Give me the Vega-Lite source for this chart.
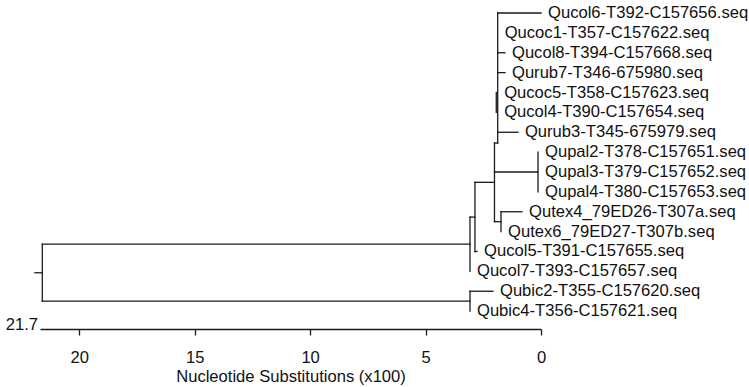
{
  "$schema": "https://vega.github.io/schema/vega-lite/v6.json",
  "width": 501,
  "height": 329,
  "autosize": {"type": "none"},
  "padding": {"left": 40, "top": 0, "right": 208, "bottom": 58},
  "background": "white",
  "config": {
    "view": {"stroke": null},
    "font": "Liberation Sans",
    "text": {"font": "Liberation Sans"}
  },
  "datasets": {
    "segments": [
      {"branch": "Qucol6", "x": 1.876, "x2": 0.0, "y": 1, "y2": 1},
      {"branch": "Qucol8", "x": 1.876, "x2": 1.56, "y": 3, "y2": 3},
      {"branch": "Qurub7", "x": 1.876, "x2": 1.56, "y": 4, "y2": 4},
      {"branch": "Qurub3", "x": 1.876, "x2": 1.0, "y": 7, "y2": 7},
      {"branch": "Qucoc5/Qucol4 node", "x": 1.937, "x2": 1.937, "y": 5, "y2": 6},
      {"branch": "D node", "x": 1.876, "x2": 1.876, "y": 1, "y2": 7.54},
      {"branch": "D stem", "x": 2.015, "x2": 1.876, "y": 7.54, "y2": 7.54},
      {"branch": "Qupal stem", "x": 2.015, "x2": 0.13, "y": 9, "y2": 9},
      {"branch": "Qupal node", "x": 0.13, "x2": 0.13, "y": 8, "y2": 10},
      {"branch": "C node", "x": 2.015, "x2": 2.015, "y": 7.54, "y2": 11.5},
      {"branch": "Qutex stem", "x": 2.015, "x2": 1.733, "y": 11.5, "y2": 11.5},
      {"branch": "Qutex node", "x": 1.733, "x2": 1.733, "y": 11, "y2": 12},
      {"branch": "Qutex4", "x": 1.733, "x2": 0.823, "y": 11, "y2": 11},
      {"branch": "C stem", "x": 2.86, "x2": 2.015, "y": 9.52, "y2": 9.52},
      {"branch": "B node", "x": 2.86, "x2": 2.86, "y": 9.52, "y2": 13},
      {"branch": "Qucol5", "x": 2.86, "x2": 2.77, "y": 13, "y2": 13},
      {"branch": "B stem", "x": 3.076, "x2": 2.86, "y": 11.27, "y2": 11.27},
      {"branch": "A node", "x": 3.076, "x2": 3.076, "y": 11.27, "y2": 14},
      {"branch": "A stem", "x": 21.6, "x2": 3.076, "y": 12.63, "y2": 12.63},
      {"branch": "Qubic stem", "x": 21.6, "x2": 3.076, "y": 15.5, "y2": 15.5},
      {"branch": "Qubic node", "x": 3.076, "x2": 3.076, "y": 15, "y2": 16},
      {"branch": "Qubic2", "x": 3.076, "x2": 2.08, "y": 15, "y2": 15},
      {"branch": "Root node", "x": 21.6, "x2": 21.6, "y": 12.63, "y2": 15.5},
      {"branch": "Root stub", "x": 21.92, "x2": 21.6, "y": 14.07, "y2": 14.07}
    ],
    "leaves": [
      {"name": "Qucol6-T392-C157656.seq", "tip": 0.0, "row": 1},
      {"name": "Qucoc1-T357-C157622.seq", "tip": 1.876, "row": 2},
      {"name": "Qucol8-T394-C157668.seq", "tip": 1.56, "row": 3},
      {"name": "Qurub7-T346-675980.seq", "tip": 1.56, "row": 4},
      {"name": "Qucoc5-T358-C157623.seq", "tip": 1.90, "row": 5},
      {"name": "Qucol4-T390-C157654.seq", "tip": 1.90, "row": 6},
      {"name": "Qurub3-T345-675979.seq", "tip": 1.0, "row": 7},
      {"name": "Qupal2-T378-C157651.seq", "tip": 0.13, "row": 8},
      {"name": "Qupal3-T379-C157652.seq", "tip": 0.13, "row": 9},
      {"name": "Qupal4-T380-C157653.seq", "tip": 0.13, "row": 10},
      {"name": "Qutex4_79ED26-T307a.seq", "tip": 0.823, "row": 11},
      {"name": "Qutex6_79ED27-T307b.seq", "tip": 1.733, "row": 12},
      {"name": "Qucol5-T391-C157655.seq", "tip": 2.77, "row": 13},
      {"name": "Qucol7-T393-C157657.seq", "tip": 3.076, "row": 14},
      {"name": "Qubic2-T355-C157620.seq", "tip": 2.08, "row": 15},
      {"name": "Qubic4-T356-C157621.seq", "tip": 3.076, "row": 16}
    ]
  },
  "layer": [
    {
      "data": {"name": "segments"},
      "mark": {"type": "rule", "color": "#1a1a1a", "strokeWidth": 1.3, "strokeCap": "square"},
      "encoding": {
        "x": {
          "field": "x",
          "type": "quantitative",
          "scale": {"domain": [0, 21.7], "reverse": true, "nice": false, "zero": false},
          "axis": {
            "values": [20, 15, 10, 5, 0],
            "title": "Nucleotide Substitutions (x100)",
            "titleFont": "Liberation Sans",
            "titleFontSize": 16.6,
            "titleFontWeight": "normal",
            "titleColor": "#111",
            "titlePadding": 3,
            "labelFont": "Liberation Sans",
            "labelFontSize": 16.6,
            "labelColor": "#111",
            "labelPadding": 14,
            "labelFlush": false,
            "labelOverlap": false,
            "tickSize": 6,
            "tickColor": "#1a1a1a",
            "tickWidth": 1.3,
            "domainColor": "#1a1a1a",
            "domainWidth": 1.3,
            "grid": false
          }
        },
        "x2": {"field": "x2"},
        "y": {
          "field": "y",
          "type": "quantitative",
          "scale": {"domain": [0.345, 16.9], "reverse": true, "nice": false, "zero": false},
          "axis": null
        },
        "y2": {"field": "y2"}
      }
    },
    {
      "data": {"name": "leaves"},
      "mark": {"type": "text", "align": "left", "baseline": "middle", "dx": 7, "fontSize": 16.6, "font": "Liberation Sans", "color": "#111"},
      "encoding": {
        "x": {"field": "tip", "type": "quantitative"},
        "y": {"field": "row", "type": "quantitative"},
        "text": {"field": "name"}
      }
    },
    {
      "data": {"values": [{"v": 21.7, "edge": 16.9, "label": "21.7"}]},
      "mark": {"type": "text", "align": "right", "baseline": "middle", "dx": -2, "dy": -4, "fontSize": 16.6, "font": "Liberation Sans", "color": "#111"},
      "encoding": {
        "x": {"field": "v", "type": "quantitative"},
        "y": {"field": "edge", "type": "quantitative"},
        "text": {"field": "label"}
      }
    }
  ]
}
